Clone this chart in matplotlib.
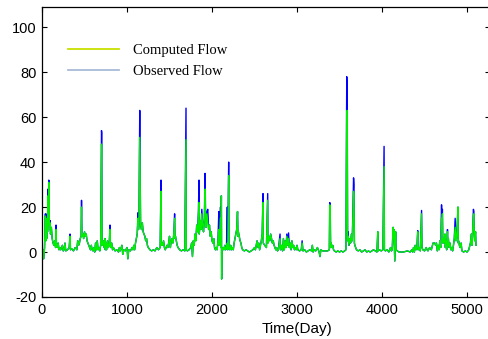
import matplotlib
matplotlib.use("Agg")
import matplotlib.pyplot as plt
from matplotlib.lines import Line2D

plt.rcParams["axes.unicode_minus"] = False

# ---- data ----
days = [0, 10, 20, 30, 40, 45, 50, 55, 60, 65, 70, 75, 80, 85, 90, 95, 100, 110, 120, 130,
        140, 150, 160, 165, 170, 180, 190, 200, 210, 220, 240, 250, 260, 270, 280, 300, 320, 330, 335, 350,
        370, 390, 410, 420, 430, 440, 450, 460, 465, 470, 480, 490, 500, 510, 520, 530, 540, 550, 560, 570,
        580, 590, 600, 610, 620, 630, 640, 650, 660, 670, 680, 690, 700, 703, 706, 710, 720, 730, 740, 745,
        750, 760, 770, 780, 790, 800, 805, 810, 820, 830, 840, 860, 880, 900, 910, 920, 940, 950, 960, 980,
        1000, 1010, 1020, 1040, 1060, 1070, 1080, 1090, 1100, 1110, 1120, 1130, 1135, 1140, 1150, 1153, 1160, 1170, 1180, 1190,
        1200, 1210, 1220, 1230, 1240, 1250, 1270, 1290, 1310, 1330, 1350, 1370, 1390, 1400, 1403, 1410, 1420, 1430, 1440, 1450,
        1470, 1480, 1490, 1500, 1510, 1520, 1530, 1540, 1550, 1560, 1565, 1570, 1580, 1590, 1600, 1620, 1640, 1660, 1680, 1694,
        1697, 1710, 1730, 1750, 1760, 1770, 1780, 1790, 1800, 1810, 1820, 1830, 1840, 1847, 1850, 1860, 1870, 1880, 1890, 1900,
        1910, 1918, 1925, 1930, 1940, 1950, 1960, 1970, 1980, 1990, 2000, 2010, 2020, 2030, 2040, 2050, 2060, 2070, 2080, 2085,
        2090, 2100, 2105, 2110, 2113, 2117, 2130, 2140, 2150, 2160, 2170, 2180, 2185, 2196, 2200, 2210, 2220, 2230, 2240, 2250,
        2260, 2270, 2280, 2290, 2300, 2305, 2310, 2320, 2330, 2340, 2350, 2360, 2380, 2400, 2420, 2440, 2460, 2480, 2500, 2510,
        2520, 2530, 2540, 2550, 2560, 2570, 2580, 2590, 2600, 2603, 2620, 2640, 2655, 2658, 2670, 2680, 2690, 2700, 2710, 2720,
        2730, 2740, 2750, 2760, 2770, 2780, 2800, 2805, 2820, 2830, 2840, 2850, 2860, 2870, 2880, 2890, 2900, 2910, 2920, 2930,
        2940, 2950, 2960, 2970, 2980, 2990, 3000, 3010, 3030, 3050, 3060, 3070, 3090, 3110, 3130, 3150, 3170, 3180, 3190, 3200,
        3220, 3240, 3260, 3270, 3280, 3300, 3330, 3360, 3380, 3385, 3390, 3395, 3400, 3410, 3420, 3430, 3440, 3460, 3480, 3500,
        3520, 3540, 3560, 3575, 3585, 3590, 3595, 3600, 3610, 3620, 3630, 3640, 3650, 3665, 3670, 3675, 3680, 3690, 3700, 3720,
        3740, 3760, 3780, 3800, 3820, 3840, 3860, 3880, 3900, 3920, 3940, 3950, 3955, 3970, 3990, 4010, 4024, 4028, 4040, 4060,
        4080, 4100, 4110, 4120, 4130, 4135, 4140, 4145, 4150, 4155, 4160, 4165, 4180, 4200, 4250, 4300, 4330, 4350, 4360, 4370,
        4380, 4390, 4400, 4410, 4420, 4425, 4440, 4450, 4465, 4470, 4480, 4500, 4520, 4530, 4540, 4560, 4580, 4600, 4620, 4630,
        4640, 4650, 4660, 4670, 4680, 4690, 4700, 4705, 4710, 4715, 4720, 4730, 4740, 4745, 4750, 4760, 4770, 4775, 4780, 4790,
        4800, 4810, 4820, 4830, 4840, 4850, 4860, 4870, 4880, 4893, 4897, 4900, 4910, 4920, 4930, 4940, 4960, 4980, 5000, 5020,
        5040, 5050, 5060, 5070, 5075, 5080, 5085, 5090, 5100, 5105]

computed = [0, 1, -3, 2, 16, 5, 12, 6, 15, 9, 25, 12, 31, 14, 10, 13, 8, 11, 6, 4,
            3, 5, 2, 10, 3, 2, 4, 1, 2, 1, 3, 0.5, 1, 4, 0.5, 1, 2, 7, 1, 1.5,
            0.5, 2, 1, 5, 3, 4, 6, 7, 20, 7, 8, 6, 9, 7, 8, 5, 4, 3, 2, 1,
            3, 1, 0.5, 2, 0, 4, 1, 5, 1, 2, 0.5, 3, 48, 46, 4, 3, 5, 2, 6, 1,
            4, 1, 5, 2, 3, 10, 3, 2, 4, 1, 2, 0.5, 1, 0, 2, 0.5, 3, -1, 1, 0.5,
            2, -3, 1, 0.5, 2, 1, 3, 1, 4, 6, 8, 15, 10, 12, 51, 40, 12, 10, 13, 9,
            8, 7, 5, 6, 3, 2, 1, 0.5, 1, 0.5, 2, 1, 2, 27, 3, 4, 3, 5, 2, 1,
            3, 2, 4, 7, 2, 5, 6, 4, 8, 15, 6, 7, 5, 3, 2, 1, 0.5, 1, 0.5, 50,
            1, 0.5, 1, 2, 4, -2, 5, 3, 8, 5, 12, 9, 16, 22, 8, 14, 10, 17, 12, 9,
            15, 28, 14, 11, 17, 13, 10, 12, 7, 9, 5, 4, 6, 2, 1, 2, 1, 5, 10, 3,
            8, 15, 2, 25, -12, 1, 2, 1, 3, 1, 2, 4, 1, 34, 2, 1, 3, 1, 2, 1,
            4, 6, 8, 10, 18, 7, 9, 7, 5, 4, 2, 1, 0.5, 1, 0.5, 0, 0.5, 1, 2, 1,
            3, 5, 2, 4, 1, 3, 5, 8, 22, 4, 3, 2, 23, 4, 7, 5, 8, 6, 4, 5,
            3, 2, 1, 2, 0.5, 1, 6, 1, 3, 0.5, 6, 1, 5, 2, 7, 3, 6, 2, 4, 1,
            5, 2, 3, 1, 2, 1, 3, 1, 0.5, 1, 4, 0.5, 1, 0, 0.5, 1, 0.5, 3, 0, 1,
            0.5, 2, 0, -2, 1, 0.5, 0.5, 0.5, 1, 21, 20, 2, 4, 2, 3, 1, 0.5, 0, 0.5, 0,
            0.5, 0, 0.5, 1, 62, 63, 5, 7, 3, 6, 4, 8, 5, 27, 25, 4, 3, 2, 1, 0.5,
            1, 0, 0.5, 1, 0, 0.5, 0, 0.5, 1, 0.5, 0, 9, 0.5, 1, 0.5, 1, 38, 1, 0.5, 1,
            0, 2, 0.5, 1, 11, 6, 10, 2, -4, 2, 9, 1, 0.5, 0, 0, 0.5, 0, 1, 0, 2,
            0, 3, 1, 2, 9, 1, 2, 0.5, 17, 2, 1, 0.5, 2, 1, 0.5, 2, 1, 4, 4, 3,
            4, 0.5, 3, 1, 5, 2, 15, 12, 17, 4, 6, 4, 8, 2, 5, 1, 9, 3, 6, 2,
            4, 1, 2, 0.5, 3, 6, 11, 5, 7, 20, 4, 5, 3, 2, 4, 0.5, 0, 0.5, 0, 1,
            4, 8, 3, 13, 16, 17, 8, 5, 9, 3]

# observed flow equals the computed trace except at these days (peaks)
observed_peak_days = [40, 50, 60, 70, 80, 95, 165, 330, 465, 700, 703, 800, 1130, 1150, 1153,
                      1400, 1560, 1694, 1840, 1847, 1880, 1918, 1940, 1950, 2080, 2100, 2180, 2196,
                      2600, 2655, 2800, 2880, 2900, 3060, 3385, 3390, 3585, 3590, 3600, 3665, 3670,
                      4024, 4420, 4465, 4700, 4710, 4770, 4860, 4893, 5075, 5080]
observed_peak_values = [17, 14, 17, 28, 32, 14, 12, 8, 23, 54, 53, 12, 17.5, 63, 42,
                        32, 17, 64, 18, 32, 19, 35, 18, 19, 18, 20, 20, 40,
                        26, 26, 8, 8, 8.5, 5, 22, 21, 78, 71, 9, 33, 30,
                        47, 9.5, 18.5, 21, 19, 10, 15, 20, 19, 18]

x_ticks = [0, 1000, 2000, 3000, 4000, 5000]
y_ticks = [-20, 0, 20, 40, 60, 80, 100]

peak_map = dict(zip(observed_peak_days, observed_peak_values))
observed = [peak_map.get(d, v) for d, v in zip(days, computed)]

# ---- figure ----
W, H = 489, 339
fig = plt.figure(figsize=(W / 100, H / 100), dpi=100)
left, right, bottom, top = 42, 490, 297, 7
ax = fig.add_axes([left / W, 1 - bottom / H, (right - left) / W, (bottom - top) / H])

ax.plot(days, observed, color="#0000ff", lw=1.0)
ax.plot(days, computed, color="#00f000", lw=1.0)

ax.set_xlim(0, 5270)
ax.set_ylim(-20, 109)
ax.set_xticks(x_ticks)
ax.set_yticks(y_ticks)
ax.tick_params(direction="in", length=3.8, width=0.8, top=True, right=True,
               labelsize=10.5, pad=4)
for lab in ax.get_xticklabels() + ax.get_yticklabels():
    lab.set_fontfamily("Liberation Sans")
for s in ax.spines.values():
    s.set_linewidth(0.9)

fig.text(297 / W, 1 - 329 / H, "Time(Day)", ha="center", va="center",
         fontsize=11, fontfamily="Liberation Sans")

handles = [Line2D([], [], color="#c8e000", lw=1.3),
           Line2D([], [], color="#a8bcd8", lw=1.3)]
leg = ax.legend(handles, ["Computed Flow", "Observed Flow"], frameon=False,
                loc="upper left", bbox_to_anchor=((68 - left) / (right - left) - 0.006,
                                                  1 - (41 - top) / (bottom - top)),
                prop={"family": "Liberation Serif", "size": 10.5},
                handlelength=3.45, handletextpad=1.0, labelspacing=0.55,
                borderaxespad=0, borderpad=0.2)

fig.savefig("out.png", dpi=100)
